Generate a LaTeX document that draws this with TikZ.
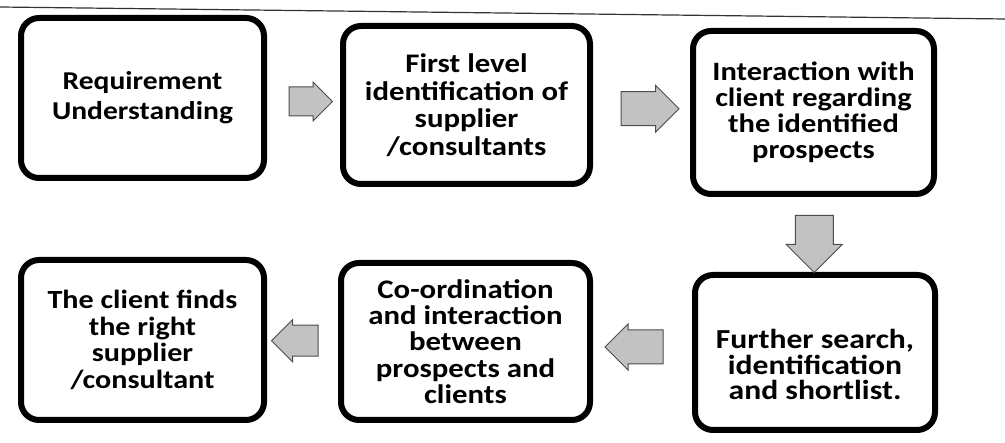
\documentclass[tikz,border=0pt]{standalone}
\usepackage{fontspec}
\newfontfamily\stagefont[FakeStretch=1.15]{Carlito}
\usetikzlibrary{shapes.arrows,calc}
\begin{document}
\begin{tikzpicture}[x=1pt,y=-1pt,
  stagebox/.style={draw=black, line width=6pt, rounded corners=18pt, fill=white,
    align=center, inner sep=0pt},
  stagetext/.style 2 args={font=\stagefont\bfseries\fontsize{#1}{#2}\selectfont},
  flowarrow/.style={single arrow, draw=black!70, line width=1pt, fill=black!24,
    single arrow tip angle=90}
]
\useasboundingbox (0,0) rectangle (1005,443);

% rule across the top of the page
\draw[black!80, line width=1.2pt] (0,7) -- (1005,19);

% process stages
\node[stagebox, stagetext={25.7}{30}, minimum width=243pt, minimum height=160pt]
  (req) at (142.5,98) {Requirement\\Understanding};
\node[stagebox, stagetext={26.8}{27.5}, minimum width=247pt, minimum height=158pt]
  (first) at (466.5,105) {First level\\identification of\\supplier\\/consultants};
\node[stagebox, stagetext={26.5}{26}, minimum width=241pt, minimum height=163pt]
  (talk) at (813.5,112.5) {Interaction with\\client regarding\\the identified\\prospects};
\node[stagebox, stagetext={27.5}{25.5}, minimum width=240pt, minimum height=155pt]
  (search) at (815,352.5) {\mbox{}\\[18pt]Further search,\\identification\\and shortlist.};
\node[stagebox, stagetext={26.8}{26.2}, minimum width=249pt, minimum height=157pt]
  (coord) at (465.5,341.5) {Co-ordination\\and interaction\\between\\prospects and\\clients};
\node[stagebox, stagetext={26.2}{26.5}, minimum width=243pt, minimum height=160pt]
  (found) at (142.5,340) {The client finds\\the right\\supplier\\/consultant};

% block arrows between the stages (inner sep sets half the shaft width)
\node[flowarrow, inner sep=14pt, minimum height=40pt, single arrow head extend=5pt]
  (a1) at ($(req.east)!0.5!(first.west)$) {};
\node[flowarrow, inner sep=16.5pt, minimum height=58pt, single arrow head extend=6.5pt]
  (a2) at ($(first.east)!0.5!(talk.west)$) {};
\node[flowarrow, shape border rotate=270, inner sep=18.5pt, minimum height=47pt,
  single arrow head extend=9pt]
  (a3) at ($(talk.south)!0.5!(search.north)$) {};
\node[flowarrow, shape border rotate=180, inner sep=16.5pt, minimum height=58pt,
  single arrow head extend=6pt]
  (a4) at ($(search.west)!0.5!(coord.east)$) {};
\node[flowarrow, shape border rotate=180, inner sep=15pt, minimum height=40pt,
  single arrow head extend=5.5pt]
  (a5) at ($(coord.west)!0.5!(found.east)$) {};
\end{tikzpicture}
\end{document}
